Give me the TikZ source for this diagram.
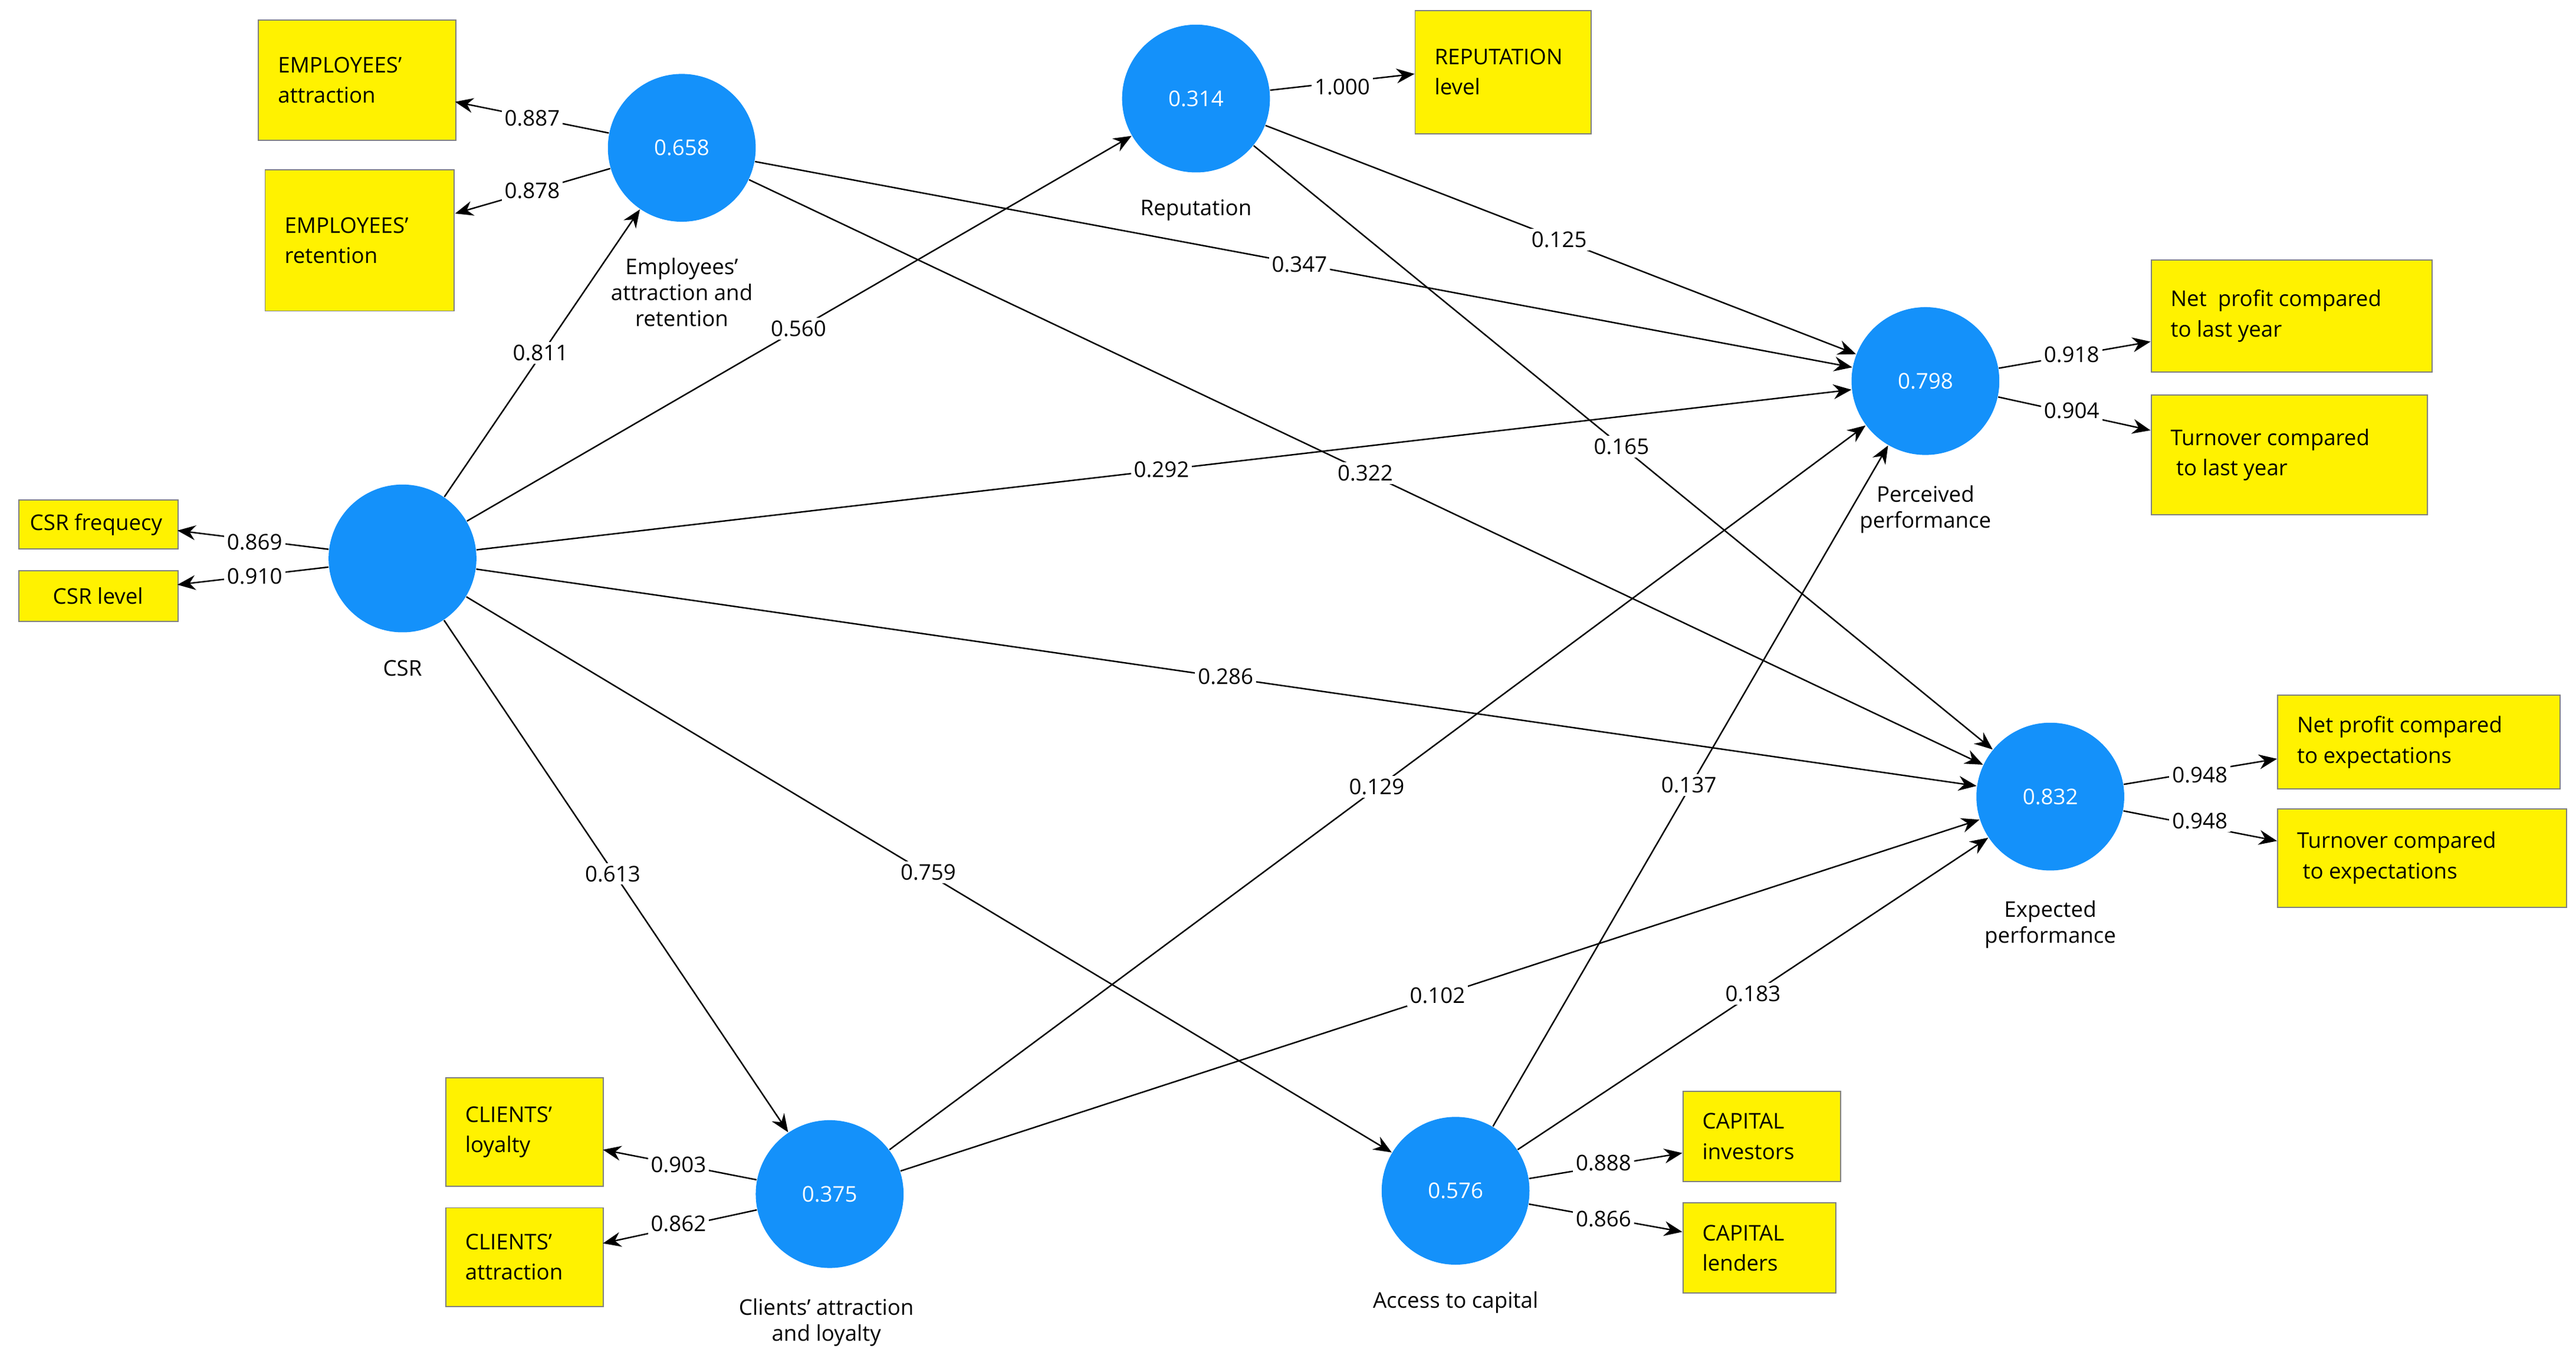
\documentclass[tikz,border=0pt]{standalone}
\usepackage{fontspec}
\setmainfont{Open Sans}
\usetikzlibrary{arrows.meta,calc}
\definecolor{lvblue}{RGB}{20,145,250}
\begin{document}
\begin{tikzpicture}[x=0.02cm,y=-0.02cm,
  font=\fontsize{7.5}{9}\selectfont,
  lv/.style={circle,fill=lvblue,minimum size=1.8cm,inner sep=0,text=white},
  mv/.style={draw=gray,fill=yellow,align=left,anchor=north west,inner sep=0,text depth=0},
  ar/.style={-{Stealth[length=2.2mm,width=1.8mm]},black,line width=0.5pt},
  lb/.style={fill=white,inner sep=1pt},
  lvcap/.style={align=center}]
\useasboundingbox (0,0) rectangle (1568,835);
% latent variables
\node[lv] (csr) at (245,340) {};
\node[lv] (emp) at (415,90) {0.658};
\node[lv] (rep) at (728,60) {0.314};
\node[lv] (per) at (1172,232) {0.798};
\node[lv] (exp) at (1248,485) {0.832};
\node[lv] (cli) at (505,727) {0.375};
\node[lv] (acc) at (886,725) {0.576};
\node[lvcap] at (245,407) {CSR};
\node[lvcap] at (415,178) {Employees'\\attraction and\\retention};
\node[lvcap] at (728,128) {Reputation};
\node[lvcap] at (1172,310) {Perceived\\performance};
\node[lvcap] at (1248,563) {Expected\\performance};
\node[lvcap] at (503,805) {Clients' attraction\\and loyalty};
\node[lvcap] at (886,793) {Access to capital};
% indicators
\newcommand{\mvbox}[6]{\node[mv,minimum width=#4*0.02cm,minimum height=#5*0.02cm] (#1) at (#2,#3) {};
 \node[anchor=west,align=left,font=\fontsize{7.5}{10.5}\selectfont] at ($(#1.west)+(6,0)$) {#6};}
\mvbox{ea}{157}{12}{120}{73}{EMPLOYEES'\\attraction}
\mvbox{er}{161}{103}{115}{86}{EMPLOYEES'\\retention}
\mvbox{rl}{861}{6}{107}{75}{REPUTATION\\level}
\mvbox{np}{1309}{158}{171}{68}{Net\ \ profit compared\\to last year}
\mvbox{tl}{1309}{240}{168}{73}{Turnover compared\\\ to last year}
\node[mv,minimum width=97*0.02cm,minimum height=30*0.02cm,anchor=north west] (cf) at (11,304) {};
\node[anchor=west] at ($(cf.west)+(1,0)$) {CSR frequecy};
\node[mv,minimum width=97*0.02cm,minimum height=31*0.02cm,anchor=north west] (cl) at (11,347) {};
\node[anchor=west] at ($(cl.west)+(15,0)$) {CSR level};
\mvbox{ne}{1386}{423}{172}{57}{Net profit compared\\to expectations}
\mvbox{te}{1386}{492}{176}{60}{Turnover compared\\\ to expectations}
\mvbox{cy}{271}{656}{96}{66}{CLIENTS'\\loyalty}
\mvbox{ct}{271}{735}{96}{60}{CLIENTS'\\attraction}
\mvbox{ci}{1024}{664}{96}{55}{CAPITAL\\investors}
\mvbox{cn}{1024}{732}{93}{55}{CAPITAL\\lenders}
% outer arrows
\draw[ar] (emp) -- (277,62);
\draw[ar] (emp) -- (277,130);
\draw[ar] (rep) -- (861,45);
\draw[ar] (per) -- (1309,208);
\draw[ar] (per) -- (1309,262);
\draw[ar] (csr) -- (108,323);
\draw[ar] (csr) -- (108,356);
\draw[ar] (exp) -- (1386,462);
\draw[ar] (exp) -- (1386,512);
\draw[ar] (cli) -- (367,700);
\draw[ar] (cli) -- (367,757);
\draw[ar] (acc) -- (1024,702);
\draw[ar] (acc) -- (1024,750);
% inner arrows
\draw[ar] (csr) -- (emp);
\draw[ar] (csr) -- (rep);
\draw[ar] (csr) -- (per);
\draw[ar] (csr) -- (exp);
\draw[ar] (csr) -- (cli);
\draw[ar] (csr) -- (acc);
\draw[ar] (emp) -- (per);
\draw[ar] (emp) -- (exp);
\draw[ar] (rep) -- (per);
\draw[ar] (rep) -- (exp);
\draw[ar] (cli) -- (per);
\draw[ar] (cli) -- (exp);
\draw[ar] (acc) -- (per);
\draw[ar] (acc) -- (exp);
% labels
\foreach \x/\y/\t in {324/72/0.887,324/116/0.878,817/53/1.000,1261/216/0.918,1261/250/0.904,
 155/330/0.869,155/351/0.910,1339/472/0.948,1339/500/0.948,413/709/0.903,413/745/0.862,
 976/708/0.888,976/742/0.866,
 329/215/0.811,486/200/0.560,707/286/0.292,746/412/0.286,373/532/0.613,565/531/0.759,
 791/161/0.347,831/288/0.322,949/146/0.125,987/272/0.165,838/479/0.129,875/606/0.102,
 1028/478/0.137,1067/605/0.183}
 \node[lb] at (\x,\y) {\t};
\end{tikzpicture}
\end{document}
